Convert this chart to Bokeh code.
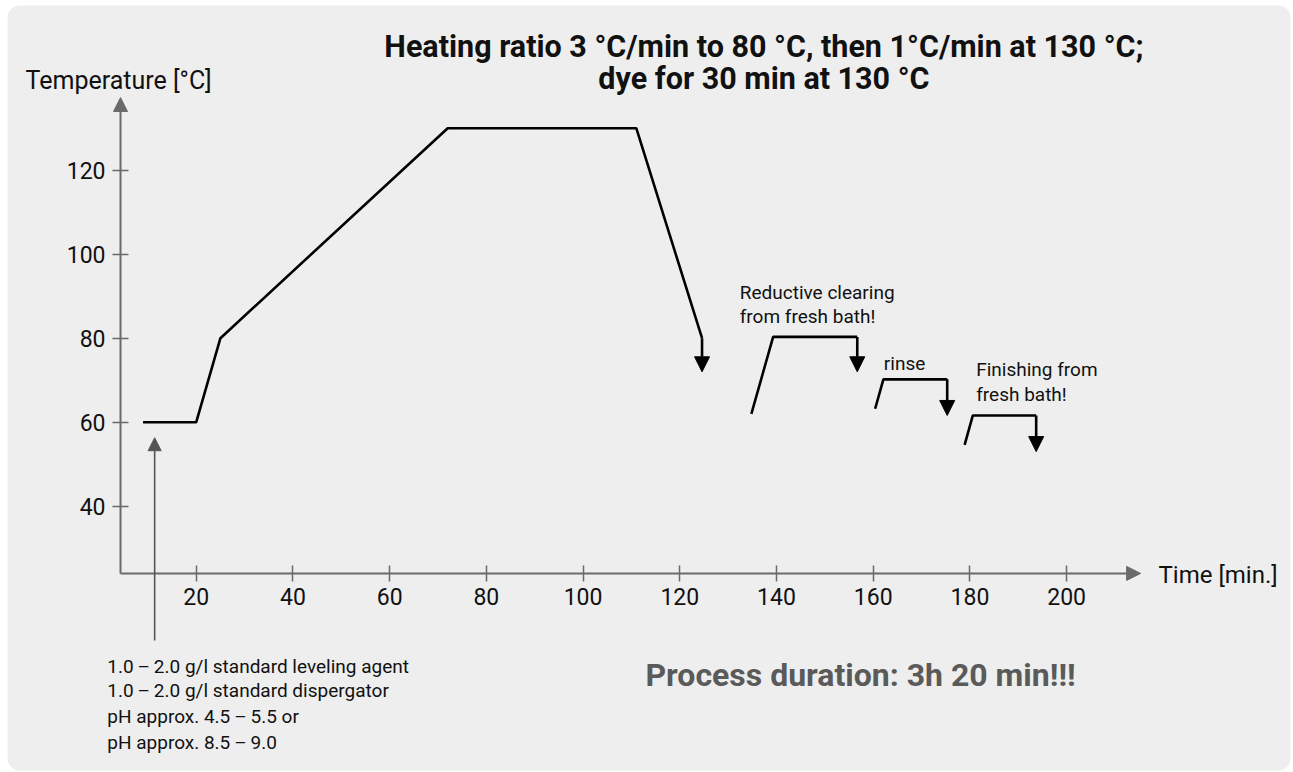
from bokeh.plotting import figure
from bokeh.models import (LinearAxis, FixedTicker, Arrow, NormalHead, BoxAnnotation, Range1d)
from bokeh.core.properties import value
from bokeh.embed import file_html
from bokeh.resources import INLINE

# ---------------- data ----------------
x_ticks = [20, 40, 60, 80, 100, 120, 140, 160, 180, 200]
y_ticks = [40, 60, 80, 100, 120]

profile_time = [9, 20, 25, 72, 111, 124.6]
profile_temp = [60, 60, 80, 130, 130, 80]
profile_drop = 72

clearing_time = [134.8, 139.3, 156.7]
clearing_temp = [62, 80.3, 80.3]
clearing_drop = 72

rinse_time = [160.4, 162.1, 175.3]
rinse_temp = [63.2, 70.2, 70.2]
rinse_drop = 61.6

finish_time = [178.9, 180.6, 193.7]
finish_temp = [54.6, 61.6, 61.6]
finish_drop = 53

axis_origin_time = 4.34
axis_origin_temp = 24
axis_end_time = 215.3
axis_end_temp = 137.3

dosing_time = 11.4
dosing_from = 8
dosing_to = 56.3

title_lines = ["Heating ratio 3 °C/min to 80 °C, then 1°C/min at 130 °C;",
               "dye for 30 min at 130 °C"]
dosing_lines = ["1.0\u2009\u2013\u20092.0 g/l standard leveling agent",
                "1.0\u2009\u2013\u20092.0 g/l standard dispergator",
                "pH approx. 4.5\u2009\u2013\u20095.5 or",
                "pH approx. 8.5\u2009\u2013\u20099.0"]
clearing_lines = ["Reductive clearing", "from fresh bath!"]
rinse_lines = ["rinse"]
finish_lines = ["Finishing from", "fresh bath!"]
duration_text = "Process duration: 3h 20 min!!!"

FONT = "Roboto"
BG = "#eeeeee"
AXIS = "#6a6a6a"

W, H = 1291, 771
p = figure(width=W, height=H, output_backend="svg", toolbar_location=None,
           x_range=Range1d(-20.48, 246.5), y_range=Range1d(-23.17, 160.4),
           x_axis_location=None, y_axis_location=None, min_border=0)
p.background_fill_color = "white"
p.border_fill_color = "white"
p.outline_line_color = None
p.xgrid.visible = False
p.ygrid.visible = False

panel = BoxAnnotation(left=-19.03, right=246.3, top=159.2, bottom=-22.93,
                      fill_color=BG, fill_alpha=1.0, line_color=None,
                      border_radius=12, level="underlay")
p.add_layout(panel)

# axes
xaxis = LinearAxis(ticker=FixedTicker(ticks=x_ticks), fixed_location=axis_origin_temp)
yaxis = LinearAxis(ticker=FixedTicker(ticks=y_ticks), fixed_location=axis_origin_time)
for ax in (xaxis, yaxis):
    ax.axis_line_color = None
    ax.major_tick_line_color = AXIS
    ax.major_tick_line_width = 1.5
    ax.major_tick_in = 8
    ax.major_tick_out = 8
    ax.minor_tick_line_color = None
    ax.major_label_text_font = FONT
    ax.major_label_text_font_size = "23px"
    ax.major_label_text_color = "#111111"
    ax.major_label_standoff = 7
p.add_layout(xaxis, "below")
p.add_layout(yaxis, "left")

p.add_layout(Arrow(x_start=axis_origin_time, y_start=axis_origin_temp,
                   x_end=axis_end_time, y_end=axis_origin_temp,
                   line_color=AXIS, line_width=2,
                   end=NormalHead(size=14, fill_color=AXIS, line_color=AXIS)))
p.add_layout(Arrow(x_start=axis_origin_time, y_start=axis_origin_temp,
                   x_end=axis_origin_time, y_end=axis_end_temp,
                   line_color=AXIS, line_width=2,
                   end=NormalHead(size=14, fill_color=AXIS, line_color=AXIS)))
p.add_layout(Arrow(x_start=dosing_time, y_start=dosing_from,
                   x_end=dosing_time, y_end=dosing_to,
                   line_color="#555555", line_width=1.6,
                   end=NormalHead(size=13, fill_color="#555555", line_color="#555555")))

# temperature profile segments
for tt, temps, drop in [(profile_time, profile_temp, profile_drop),
                        (clearing_time, clearing_temp, clearing_drop),
                        (rinse_time, rinse_temp, rinse_drop),
                        (finish_time, finish_temp, finish_drop)]:
    p.line(tt, temps, line_color="black", line_width=2.6)
    p.add_layout(Arrow(x_start=tt[-1], y_start=temps[-1], x_end=tt[-1], y_end=drop,
                       line_color="black", line_width=2.6,
                       end=NormalHead(size=15, fill_color="black", line_color="black")))

def txt(x, ys, lines, size, color="#111111", style="normal", align="left", baseline="alphabetic"):
    p.text(x=[x] * len(lines), y=ys, text=lines, text_font=value(FONT),
           text_font_size=size, text_color=color, text_font_style=style,
           text_align=align, text_baseline=baseline)

txt(137.4, [149.5, 141.8], title_lines, "30.5px", style="bold", align="center")
txt(-15.3, [141.4], ["Temperature [°C]"], "25px")
txt(219.0, [23.6], ["Time [min.]"], "24px", baseline="middle")
txt(1.6, [1.9, -4.0, -10.1, -16.2], dosing_lines, "19px")
txt(132.4, [90.9, 85.2], clearing_lines, "19px")
txt(162.2, [74.0], rinse_lines, "19px")
txt(181.3, [72.5, 66.6], finish_lines, "19px")
txt(112.9, [-0.3], [duration_text], "32px", color="#5a5a5a", style="bold")

open("out.html", "w").write(file_html(p, INLINE))
